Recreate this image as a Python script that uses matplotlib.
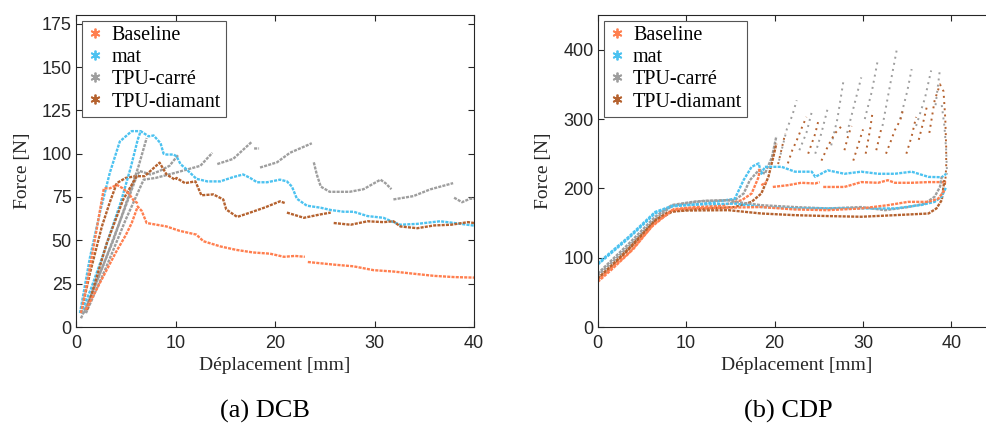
import numpy as np
import matplotlib
matplotlib.use('Agg')
import matplotlib.pyplot as plt
from matplotlib.lines import Line2D

nan = np.nan

# couleurs des matériaux
c_base = '#FF7F4F'
c_mat = '#4CC2F0'
c_carre = '#9E9E9E'
c_diam = '#B5622F'
materials = ['Baseline', 'mat', 'TPU-carré', 'TPU-diamant']

# ---------------- (a) DCB ----------------
dcb_base_x1 = [1.0, 2.0, 3.0, 4.0, 5.0, 5.6, 6.2, 6.6, 7.1, 8.1, 9.1, 10.4, 12.1, 12.8, 14.5, 16.1, 17.8, 19.5, 20.9, 22.0, 23.0, nan,
               23.3, 25.9, 27.9, 29.9, 31.9, 34.0, 36.0, 38.0, 40.0]
dcb_base_y1 = [10, 21, 32, 43, 53, 60, 69.5, 67, 60, 59, 58, 55.5, 53.3, 49.5, 46.5, 44.5, 43, 42.3, 40.5, 41, 40.5, nan,
               37.5, 36, 35, 32.8, 32, 30.7, 29.5, 28.8, 28.5]
dcb_base_x2 = [0.5, 1.0, 1.7, 2.4, 2.8, 3.4, 4.1, 4.7, 5.3, 5.8, 6.3]
dcb_base_y2 = [8, 22, 44, 67, 80, 80, 82, 80, 77, 73, 71]

dcb_mat_x1 = [0.4, 1.4, 2.4, 3.4, 4.4, 5.6, 6.4]
dcb_mat_y1 = [8, 40, 66, 89, 107, 113, 113]
dcb_mat_x2 = [0.5, 1.5, 2.5, 3.5, 4.5, 5.5, 6.2, 6.5, 7.3, 7.8, 8.5, 8.8, 9.1, 9.8, 10.1, 10.5, 11.1, 12.1, 13.2, 14.5, 15.8,
              16.8, 17.5, 18.2, 19.2, 20.5, 21.2, 21.7, 22.2, 23.2, 24.6, 25.6, 26.9, 27.9, 29.3, 30.9, 31.9, 32.6,
              34.3, 36.6, 38.0, 40.0]
dcb_mat_y2 = [8, 22, 38, 55, 72, 92, 108, 113, 110, 110.5, 106, 100, 99.5, 99.5, 98.5, 94, 91, 85.5, 84, 84, 86.5,
              88, 86, 83.5, 83.5, 85, 84, 81, 74, 70, 68.8, 67.5, 66.5, 66.5, 64, 63, 60.5, 59,
              59.5, 61, 60, 58.5]

dcb_carre_x1 = [0.5, 1.6, 3.75, 5.4, 6.3, 7.1]
dcb_carre_y1 = [5, 19.5, 50, 77.5, 93, 109]
dcb_carre_x2 = [0.8, 2.7, 4.75, 6.1, 6.4, 7.5, 8.4, 9.4, 10.3]
dcb_carre_y2 = [8, 35, 66, 87, 90, 88, 90, 93, 99.5]
dcb_carre_x3 = [1.0, 3.0, 5.0, 6.8, 8.0, 10.0, 12.5, 13.7, nan, 14.2, 15.8, 17.7, nan, 17.9, 18.4, nan,
                18.5, 20.2, 21.5, 23.7, nan, 23.9, 24.2, 24.6, 25.5, 27.5, 28.9, 30.6, 31.1, 31.7, nan,
                31.9, 33.9, 35.6, 37.9, nan, 38.0, 38.8, 39.6, 40.0]
dcb_carre_y3 = [8, 34, 62, 85, 86, 89, 93, 100.5, nan, 94, 97, 107, nan, 103, 103, nan,
                92, 95, 100.5, 106, nan, 95, 88, 81, 78, 78, 79.5, 85, 83, 79.5, nan,
                73.6, 75.5, 79.4, 83, nan, 74.6, 72, 74, 74]

dcb_diam_x1 = [1.1, 3.1, 4.75, 6.1, 6.9, 8.4, 9.1, 9.95, 10.1, 10.95, 12.0, 12.3, 12.6, 13.8, 14.8, 15.1, 16.2, 17.5,
               19.0, 20.5, 21.0, nan, 21.2, 22.9, 24.6, 25.6, nan, 25.9, 27.6, 29.3, 30.9, 31.9, 32.6, 34.3, 36.0,
               37.7, 39.4, 40.0]
dcb_diam_y1 = [9.8, 48.5, 73.6, 87, 87, 94.8, 88, 85, 86, 83, 84, 80, 76, 76.5, 73.6, 67.8, 63.5, 66,
               69, 72.5, 71.5, nan, 66, 63, 65, 66, nan, 60, 59, 61, 60.5, 61, 58, 57, 58.6,
               59, 60.5, 60]
dcb_diam_x2 = [0.5, 1.4, 2.6, 3.4, 4.1, 5.0, 6.0]
dcb_diam_y2 = [8, 31, 58, 72, 83, 86, 87]

# ---------------- (b) CDP ----------------
cdp_base_x1 = [0, 1.5, 3.5, 6.1, 8.4, 10, 14, 18.5, 22.3, 26, 29.8, 32.8, 35.1, 37.4, 38.5, 39.2]
cdp_base_y1 = [65, 82, 106, 144.5, 168.5, 171, 172, 173, 169.5, 168.5, 171, 175.7, 180.5, 180.5, 185, 197]
cdp_base_x2 = [0, 2, 4, 6.3, 8.6, 11, 14, 16.3, 17.4, 18.2, 18.3, nan, 18.5, 19.1, nan, 19.8, 21.5, 23, 24.6, 25.1, nan,
               25.5, 27.9, 29.8, 31.7, 32.8, 33.6, 35.5, 37.4, 39.4]
cdp_base_y2 = [68, 90, 112, 148, 170, 173, 175, 183, 192.5, 216.5, 228.5, nan, 204.5, 209, nan, 202, 204.5, 208, 207, 209, nan,
               202, 202, 209, 208, 211.7, 208, 208, 209, 209]

cdp_mat_x1 = [0, 3.5, 6.5, 8.5, 12, 15.5, 18.5, 22.3, 26, 29.8, 33.6, 36.6, 38.1, 38.9, 39.4]
cdp_mat_y1 = [91.7, 130, 166, 175, 177, 178, 173, 171, 171, 171, 171, 176, 180.5, 188, 202]
cdp_mat_x2 = [0, 3.5, 6.5, 8.5, 12, 15.5, 16.5, 17.4, 18.2, 18.5, 18.9, 19.7, 20.8, 22.3, 24.2, 24.6, 26, 27.9, 29.8,
              31.7, 33.6, 35.5, 37.4, 38.9, 39.4]
cdp_mat_y2 = [90, 128, 164, 174, 178, 185, 212, 231, 236, 221, 231, 231, 231, 224, 224, 216.5, 226, 221, 224,
              221, 221, 224, 216.5, 216, 221]

cdp_carre_x1 = [0, 3.5, 6.5, 8.4, 11, 14.8, 15.5, 18.5, 22.3, 26, 29.8, 32.5, 35.1, 37, 38.1, 38.7, 38.9]
cdp_carre_y1 = [77, 120, 159, 176, 181, 183, 180.5, 175.7, 173, 171, 173, 168.5, 173, 178, 188, 202, 216.5]
cdp_carre_x2 = [0, 3.5, 6.5, 8.4, 12, 15.5, 16.5, 17.2, 18.2, 18.9, 19.7, 20.2]
cdp_carre_y2 = [74, 116, 155, 175, 182, 183, 192.5, 211.7, 226, 221, 245, 275]
# partie instable (rampes séparées par des chutes)
cdp_carre_x3 = [20.5, 21.4, 22.0, 22.5, nan, 22.8, 23.6, 24.2, nan, 24.6, 25.3, 26.0, nan, 26.4, 27.1, 27.8, nan,
                28.2, 29.0, 29.8, nan, 30.2, 31.0, 31.7, nan, 32.2, 33.0, 33.8, nan, 34.2, 35.0, 35.5, nan,
                36.0, 37.0, 37.7, nan, 38.2, 38.7, nan, 38.9, 39.2, 39.4, 39.5]
cdp_carre_y3 = [240, 286, 305, 327, nan, 255, 280, 310, nan, 250, 280, 315, nan, 262, 300, 356, nan,
                280, 320, 360, nan, 300, 340, 387, nan, 290, 345, 399, nan, 300, 340, 372, nan,
                290, 330, 370, nan, 320, 372, nan, 320, 290, 255, 220]

cdp_diam_x1 = [0, 1.5, 3.5, 6.5, 8.0, 10, 14.8, 18.5, 22.3, 26, 29.8, 33.6, 37.4, 38.3, 38.9, 39.2]
cdp_diam_y1 = [70, 88, 113, 154, 166, 168, 168.5, 163.7, 161.3, 160, 159, 161.3, 163.7, 171, 183, 212]
cdp_diam_x2 = [0, 2, 4, 6.5, 8.5, 11, 15.5, 17.4, 18.5, 19.3, 19.85, 20.2]
cdp_diam_y2 = [68, 92, 118, 152, 167, 170, 173, 180.5, 192.5, 216.5, 245, 264.5]
cdp_diam_x3 = [20.4, 21.2, nan, 21.5, 22.0, 22.5, 23.0, 23.6, nan, 23.8, 24.6, 25.0, nan, 25.3, 26.0, 26.8, 27.6, nan,
               27.9, 28.3, 28.7, nan, 28.9, 29.5, 30.0, nan, 30.3, 30.8, 31.1, nan, 31.5, 32.1, nan,
               32.6, 33.2, 33.6, 34.2, 34.5, nan, 34.9, 35.5, 36.0, nan, 36.3, 36.8, 37.2, nan,
               37.5, 38.1, 38.7, 39.1, 39.3, 39.4, 39.4, 39.3, 39.2]
cdp_diam_y3 = [235, 279, nan, 236, 255, 269, 285, 303, nan, 250, 279, 300, nan, 240, 260, 279, 290, nan,
               255, 275, 290, nan, 240, 265, 285, nan, 250, 285, 312, nan, 255, 288, nan,
               250, 270, 284, 298, 312, nan, 250, 275, 303, nan, 270, 295, 317, nan,
               280, 327, 350, 340, 300, 260, 230, 210, 200]

plt.rcParams['font.family'] = ['Liberation Sans', 'DejaVu Sans']
serif = ['Liberation Serif', 'DejaVu Serif']
dark = '#262626'

fig = plt.figure(figsize=(9.86, 4.28), dpi=100)
ax1 = fig.add_axes([76 / 986, 1 - 327 / 428, 398 / 986, 312 / 428])
ax2 = fig.add_axes([597.7 / 986, 1 - 327 / 428, 398 / 986, 312 / 428])

solid = dict(lw=1.7, ls=(0, (1.3, 0.5)))
dots = dict(lw=1.4, ls=(0, (1, 2.2)))

# DCB
ax1.plot(dcb_diam_x2, dcb_diam_y2, color=c_diam, **solid)
ax1.plot(dcb_carre_x1, dcb_carre_y1, color=c_carre, **solid)
ax1.plot(dcb_carre_x2, dcb_carre_y2, color=c_carre, **solid)
ax1.plot(dcb_carre_x3, dcb_carre_y3, color=c_carre, **solid)
ax1.plot(dcb_mat_x1, dcb_mat_y1, color=c_mat, **solid)
ax1.plot(dcb_mat_x2, dcb_mat_y2, color=c_mat, **solid)
ax1.plot(dcb_diam_x1, dcb_diam_y1, color=c_diam, **solid)
ax1.plot(dcb_base_x2, dcb_base_y2, color=c_base, **solid)
ax1.plot(dcb_base_x1, dcb_base_y1, color=c_base, **solid)

# CDP
ax2.plot(cdp_carre_x3, cdp_carre_y3, color=c_carre, **dots)
ax2.plot(cdp_diam_x3, cdp_diam_y3, color=c_diam, **dots)
ax2.plot(cdp_carre_x2, cdp_carre_y2, color=c_carre, **solid)
ax2.plot(cdp_diam_x2, cdp_diam_y2, color=c_diam, **solid)
ax2.plot(cdp_mat_x2, cdp_mat_y2, color=c_mat, **solid)
ax2.plot(cdp_base_x2, cdp_base_y2, color=c_base, **solid)
ax2.plot(cdp_diam_x1, cdp_diam_y1, color=c_diam, **solid)
ax2.plot(cdp_carre_x1, cdp_carre_y1, color=c_carre, **solid)
ax2.plot(cdp_mat_x1, cdp_mat_y1, color=c_mat, **solid)
ax2.plot(cdp_base_x1, cdp_base_y1, color=c_base, **solid)

ax1.set_xlim(0, 40)
ax1.set_ylim(0, 180)
ax1.set_yticks(np.arange(0, 176, 25))
ax2.set_xlim(0, 45)
ax2.set_ylim(0, 450)
ax2.set_yticks(np.arange(0, 401, 100))

handles = [Line2D([], [], ls='none', marker=(6, 2, 0), markersize=7, markeredgewidth=1.3, color=c)
           for c in [c_base, c_mat, c_carre, c_diam]]

for ax in (ax1, ax2):
    ax.set_xticks([0, 10, 20, 30, 40])
    ax.tick_params(direction='in', length=4, width=0.8, top=True, right=True,
                   labelsize=13, colors=dark, pad=3)
    ax.tick_params(axis='x', pad=6)
    for s in ax.spines.values():
        s.set_color(dark)
        s.set_linewidth(0.8)
    ax.set_xlabel('Déplacement [mm]', family=serif, fontsize=14, color=dark, va='center')
    ax.set_ylabel('Force [N]', family=serif, fontsize=14, color=dark, va='center')
    ax.xaxis.set_label_coords(0.5, -0.125)
    ax.yaxis.set_label_coords(-0.135, 0.5)
    leg = ax.legend(handles, materials, loc='upper left', prop={'family': serif, 'size': 14.5},
                    frameon=True, fancybox=False, framealpha=1, edgecolor='#555555',
                    handlelength=0.8, handletextpad=0.4, labelspacing=0.15,
                    borderpad=0.25, borderaxespad=0.3)
    leg.get_frame().set_linewidth(0.8)

fig.text(265 / 986, 1 - 411.7 / 428, '(a) DCB', family=serif, fontsize=19, ha='center', va='center')
fig.text(788 / 986, 1 - 411.7 / 428, '(b) CDP', family=serif, fontsize=19, ha='center', va='center')

fig.savefig('out.png', dpi=100)
